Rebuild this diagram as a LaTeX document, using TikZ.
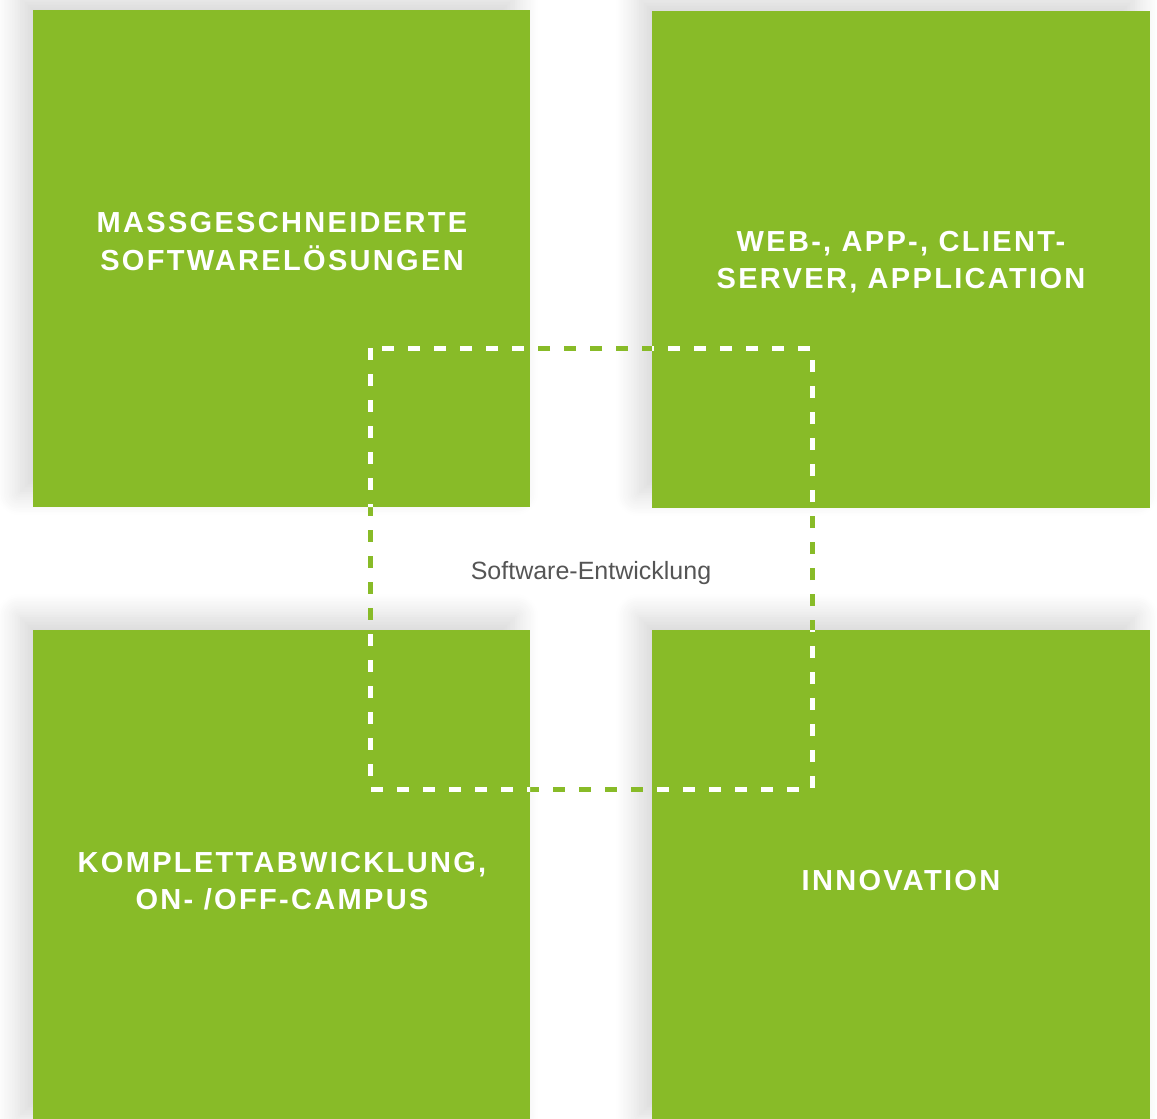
\documentclass[tikz,border=0pt]{standalone}
\usepackage{fontspec}
\setmainfont{Liberation Sans}
\newfontfamily\capsfont[LetterSpace=8]{Liberation Sans}
\usetikzlibrary{shadows.blur}
\definecolor{leaf}{HTML}{88BB28}
\definecolor{ink}{HTML}{555555}

\begin{document}
\begin{tikzpicture}[x=1pt, y=-1pt,
	tile/.style = {fill=leaf, inner sep=0pt, outer sep=0pt, anchor=north west,
		blur shadow={shadow xshift=-14pt, shadow yshift=14pt, shadow blur radius=22pt, shadow opacity=16, shadow blur steps=14}},
	tiletext/.style = {text=white, align=center, font=\capsfont\bfseries\fontsize{29}{37.5}\selectfont},
	frame/.style = {line width=5pt, dash pattern=on 12pt off 14pt}]
	\useasboundingbox (0,0) rectangle (1157,1119);

	% the four tiles
	\node[tile, minimum width=497pt, minimum height=497pt] (nw) at (33,10) {};
	\node[tile, minimum width=498pt, minimum height=497pt] (ne) at (652,11) {};
	\node[tile, minimum width=497pt, minimum height=500pt] (sw) at (33,630) {};
	\node[tile, minimum width=498pt, minimum height=500pt] (se) at (652,630) {};

	\node[tiletext] (nwt) at (282,241.5) {MASSGESCHNEIDERTE\\SOFTWARELÖSUNGEN};
	\node[tiletext] (net) at (901,262) {WEB-, APP-, CLIENT-\\SERVER, APPLICATION};
	\node[tiletext] (swt) at (282,881) {KOMPLETTABWICKLUNG,\\ON- /OFF-CAMPUS};
	\node[tiletext] (set) at (901,881) {INNOVATION};

	% dashed frame, green on white and white on the tiles
	\draw[frame, leaf] (370,348) rectangle (812,789);
	\begin{scope}
		\clip (33,10) rectangle (530,507) (652,11) rectangle (1150,508)
			(33,630) rectangle (530,1130) (652,630) rectangle (1150,1130);
		\draw[frame, white] (370,348) rectangle (812,789);
	\end{scope}

	\node[text=ink, anchor=base, font=\fontsize{25}{30}\selectfont] (core) at (591,579) {Software-Entwicklung};
\end{tikzpicture}
\end{document}
